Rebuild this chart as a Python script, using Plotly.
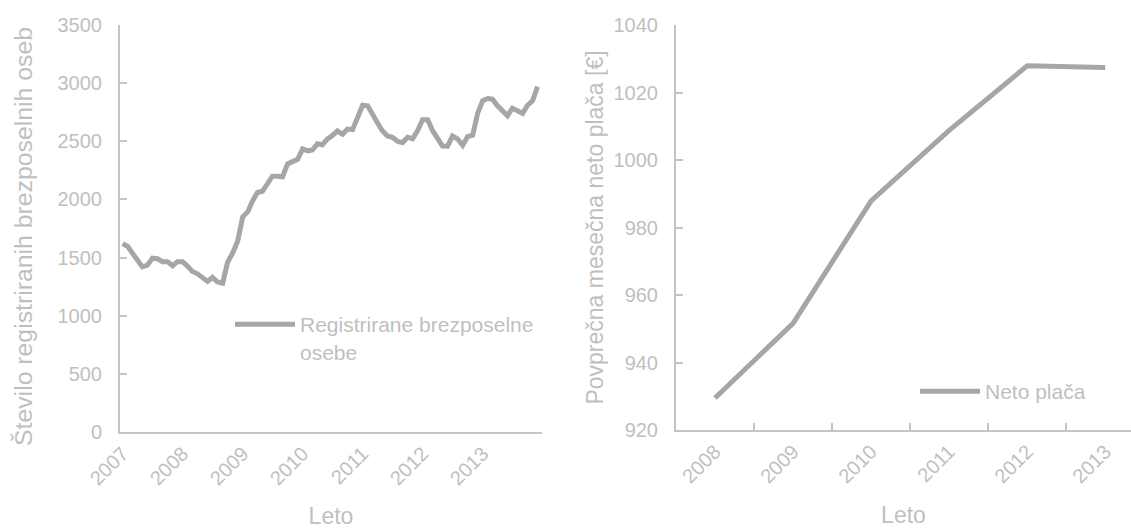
import pandas as pd
import plotly.graph_objects as go

# Registered unemployed persons, monthly, Jan 2007 - Dec 2013
months = pd.date_range("2007-01-01", periods=84, freq="MS")
unemployed = [
    1620, 1595, 1540, 1475, 1420, 1435, 1495, 1490, 1465, 1465, 1430, 1465,
    1465, 1425, 1380, 1360, 1325, 1295, 1330, 1290, 1280, 1460, 1540, 1640,
    1850, 1895, 1985, 2060, 2070, 2145, 2200, 2200, 2195, 2305, 2320, 2345,
    2435, 2418, 2425, 2478, 2470, 2520, 2550, 2590, 2560, 2605, 2600, 2700,
    2810, 2805, 2725, 2660, 2590, 2545, 2535, 2500, 2488, 2535, 2522, 2590,
    2685, 2685, 2595, 2520, 2460, 2458, 2545, 2520, 2465, 2540, 2552, 2740,
    2850, 2868, 2862, 2805, 2760, 2720, 2785, 2765, 2740, 2810, 2850, 2970,
]
year_labels = ["2007", "2008", "2009", "2010", "2011", "2012", "2013"]

# Average monthly net wage per year
wage_years = ["2008", "2009", "2010", "2011", "2012", "2013"]
net_wage = [929.5, 951.6, 987.9, 1008.8, 1027.9, 1027.4]

W, H = 1131, 529
LINE = "#A6A6A6"
TEXT = "#BFBFBF"
AXIS = "#C4C4C4"
FONT = "Liberation Sans, Arial, sans-serif"


def px_x(v):
    return v / W


def px_y(v):
    return 1 - v / H


fig = go.Figure()

fig.add_trace(go.Scatter(
    x=months, y=unemployed, mode="lines",
    name="Registrirane brezposelne<br>osebe",
    line=dict(color=LINE, width=5),
    xaxis="x", yaxis="y", legend="legend",
))
fig.add_trace(go.Scatter(
    x=wage_years, y=net_wage, mode="lines",
    name="Neto plača",
    line=dict(color=LINE, width=5),
    xaxis="x2", yaxis="y2", legend="legend2",
))

tick_font = dict(family=FONT, size=20, color=TEXT)
title_font = dict(family=FONT, size=23, color=TEXT)
legend_font = dict(family=FONT, size=21, color=TEXT)

fig.update_layout(
    width=W, height=H,
    margin=dict(l=0, r=0, t=0, b=0, autoexpand=False),
    paper_bgcolor="white", plot_bgcolor="white",
    font=dict(family=FONT, color=TEXT),
    xaxis=dict(
        domain=[px_x(120), px_x(542)],
        type="date", automargin=False,
        range=[pd.Timestamp("2006-12-16"), pd.Timestamp("2013-12-28")],
        tickvals=[pd.Timestamp(f"{y}-01-01") for y in year_labels],
        ticktext=year_labels,
        tickangle=-45, ticks="", tickfont=tick_font,
        showgrid=False, zeroline=False,
        showline=True, linecolor=AXIS, linewidth=2,
        title=dict(text="Leto", font=title_font, standoff=20),
        anchor="y",
    ),
    yaxis=dict(
        domain=[px_y(432), px_y(25)], automargin=False,
        range=[0, 3500], dtick=500,
        ticks="inside", ticklen=7, tickcolor=AXIS, tickwidth=2,
        tickfont=tick_font, ticklabelstandoff=12,
        showgrid=False, zeroline=False,
        showline=True, linecolor=AXIS, linewidth=2,
        anchor="x",
    ),
    xaxis2=dict(
        domain=[px_x(676), 1.0], automargin=False,
        type="category",
        range=[-0.5, 5.33],
        tickson="boundaries",
        ticks="inside", ticklen=7, tickcolor=AXIS, tickwidth=2,
        tickangle=-45, tickfont=tick_font,
        showgrid=False, zeroline=False,
        showline=True, linecolor=AXIS, linewidth=2,
        title=dict(text="Leto", font=title_font, standoff=21),
        anchor="y2",
    ),
    yaxis2=dict(
        domain=[px_y(430), px_y(25)], automargin=False,
        range=[920, 1040], dtick=20,
        ticks="inside", ticklen=7, tickcolor=AXIS, tickwidth=2,
        tickfont=tick_font, ticklabelstandoff=12,
        showgrid=False, zeroline=False,
        showline=True, linecolor=AXIS, linewidth=2,
        title=dict(text="Povprečna mesečna neto plača [€]", font=title_font, standoff=3),
        anchor="x2",
    ),
    legend=dict(
        x=px_x(230), y=px_y(304), xanchor="left", yanchor="top",
        bgcolor="rgba(0,0,0,0)", itemwidth=60, valign="top",
        font=legend_font,
    ),
    legend2=dict(
        x=px_x(915), y=px_y(371), xanchor="left", yanchor="top",
        bgcolor="rgba(0,0,0,0)", itemwidth=60,
        font=legend_font,
    ),
    showlegend=True,
)

# Left y-axis title, placed as a rotated annotation
fig.add_annotation(
    text="Število registriranih brezposelnih oseb",
    xref="paper", yref="paper", x=px_x(23), y=px_y(237),
    xanchor="center", yanchor="middle", textangle=-90, showarrow=False,
    font=dict(family=FONT, size=24.8, color=TEXT),
)

fig.write_html("out.html")
